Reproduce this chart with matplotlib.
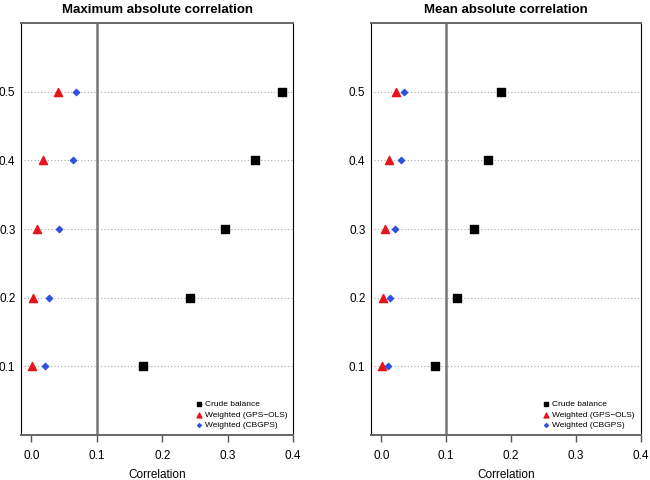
import matplotlib
matplotlib.use("Agg")
import matplotlib.pyplot as plt

plt.rcParams['font.family'] = ['Liberation Sans', 'DejaVu Sans']

# Data
levels = [0.1, 0.2, 0.3, 0.4, 0.5]
y_labels = ["0.1", "0.2", "0.3", "0.4", "0.5"]

max_crude = [0.171, 0.242, 0.296, 0.342, 0.383]
max_gps_ols = [0.001, 0.003, 0.008, 0.018, 0.041]
max_cbgps = [0.020, 0.027, 0.042, 0.063, 0.068]

mean_crude = [0.082, 0.117, 0.143, 0.165, 0.184]
mean_gps_ols = [0.001, 0.002, 0.005, 0.011, 0.022]
mean_cbgps = [0.010, 0.014, 0.021, 0.031, 0.035]

x_ticks = [0.0, 0.1, 0.2, 0.3, 0.4]
x_labels = ["0.0", "0.1", "0.2", "0.3", "0.4"]

red = "#e8141c"
blue = "#3050e0"

fig = plt.figure(figsize=(6.5, 4.8), dpi=100)
ax1 = fig.add_axes([0.0323, 0.0938, 0.4185, 0.8582])
ax2 = fig.add_axes([0.5708, 0.0938, 0.4146, 0.8582])


def draw_panel(ax, crude, gps, cb, title):
    # dotted guide lines
    for lv in levels:
        ax.axhline(lv, xmin=0.01, xmax=1.0, color="#aaaaaa", lw=0.8,
                   linestyle=(0, (1, 2)), zorder=1)
    ax.axvline(0.1, color="#777777", lw=1.8, zorder=2)
    ax.scatter(crude, levels, marker="s", s=26, color="black", zorder=3,
               label="Crude balance")
    ax.scatter(gps, levels, marker="^", s=34, color=red, zorder=3,
               label="Weighted (GPS\u2212OLS)")
    ax.scatter(cb, levels, marker="D", s=10, color=blue, zorder=4,
               label="Weighted (CBGPS)")
    ax.set_xlim(-0.016, 0.4)
    ax.set_ylim(0, 0.6)
    ax.set_yticks(levels)
    ax.set_yticklabels(y_labels)
    ax.set_xticks(x_ticks)
    ax.set_xticklabels(x_labels)
    ax.tick_params(axis="y", length=0, pad=4, labelsize=8.5)
    ax.tick_params(axis="x", length=5, width=1, color="#555555", pad=6,
                   labelsize=8.5)
    for side in ["left", "right"]:
        ax.spines[side].set_color("black")
    for side in ["top", "bottom"]:
        ax.spines[side].set_color("#666666")
        ax.spines[side].set_linewidth(1.4)
    ax.set_title(title, fontweight="bold", fontsize=9.5, pad=7)
    ax.set_xlabel("Correlation", fontsize=8.5, labelpad=5)
    ax.legend(loc="lower right", frameon=False, fontsize=6, markerscale=0.6,
              handletextpad=0.2, labelspacing=0.3, borderaxespad=0.3,
              handlelength=1.0)


draw_panel(ax1, max_crude, max_gps_ols, max_cbgps, "Maximum absolute correlation")
draw_panel(ax2, mean_crude, mean_gps_ols, mean_cbgps, "Mean absolute correlation")

fig.savefig("out.png", dpi=100)
